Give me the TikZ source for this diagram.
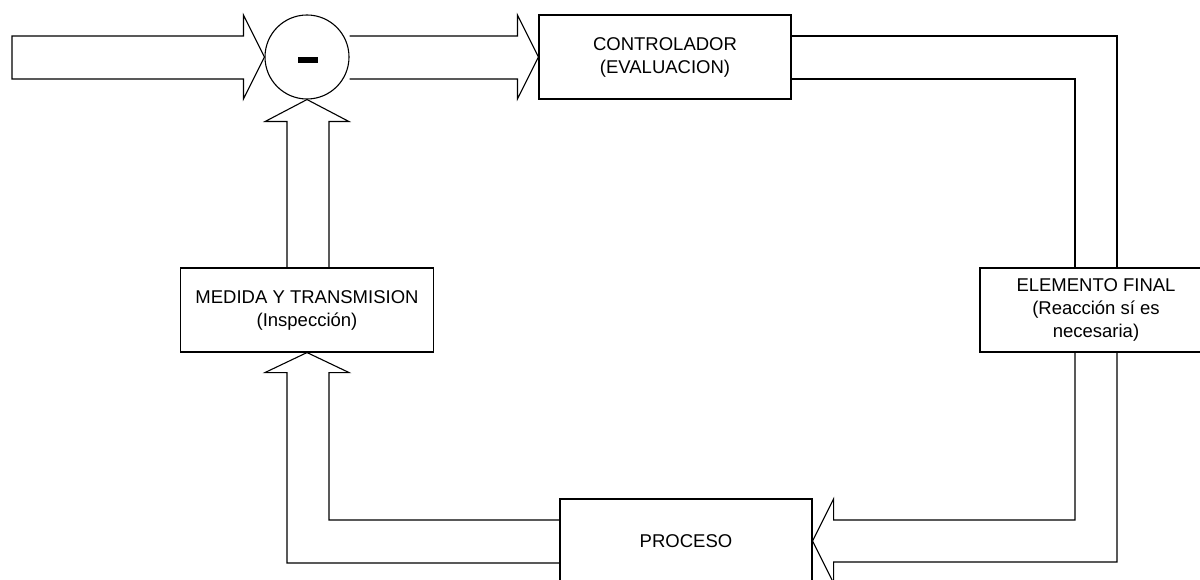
\documentclass[tikz,border=0pt]{standalone}
\usepackage{fontspec}
\setmainfont{Liberation Sans}
\usetikzlibrary{calc}

\begin{document}
\begin{tikzpicture}[x=1pt,y=-1pt,
  every node/.style={font=\fontsize{18.5}{23}\selectfont},
  block/.style={draw, line width=1.1pt, rectangle, minimum height=84pt,
                align=center, inner sep=0pt},
  fat/.style={draw, line width=1.1pt, line join=miter},
]
\clip (0,0) rectangle (1200,580);

% blocks of the control loop
\node[draw, line width=1.1pt, circle, minimum size=84pt, inner sep=0pt] (sum) at (307,57) {};
\node[fill=black, minimum width=20pt, minimum height=6pt, inner sep=0pt] (minus) at (308,60) {};
\node[block, minimum width=252pt] (ctrl) at (665,57) {CONTROLADOR\\(EVALUACION)};
\node[block, minimum width=253pt] (medida) at (307,310) {MEDIDA Y TRANSMISION\\(Inspección)};
\node[block, minimum width=232pt] (elem) at (1096,310) {ELEMENTO FINAL\\(Reacción sí es\\necesaria)};
\node[block, minimum width=252pt] (proc) at (686,541) {PROCESO};

\coordinate (in) at (12,57);

% set point input into the summing junction
\draw[fat] ($(in)+(0,-21)$) -- ($(sum.west)+(-21,-21)$) -- ($(sum.west)+(-21,-42)$)
  -- (sum.west) -- ($(sum.west)+(-21,42)$) -- ($(sum.west)+(-21,22)$)
  -- ($(in)+(0,22)$) -- cycle;

% error signal to the controller
\draw[fat] ($(sum.east)+(0,-21)$) -- ($(ctrl.west)+(-21,-21)$) -- ($(ctrl.west)+(-21,-42)$)
  -- (ctrl.west) -- ($(ctrl.west)+(-21,42)$) -- ($(ctrl.west)+(-21,22)$)
  -- ($(sum.east)+(0,22)$);

% controller output down to the final element
\draw[fat] ($(ctrl.east)+(0,-21)$) -| ($(elem.north)+(21,0)$);
\draw[fat] ($(ctrl.east)+(0,22)$) -| ($(elem.north)+(-21,0)$);

% final element acting on the process
\coordinate (c4o) at ($(elem.south)+(21,0)$);
\coordinate (c4i) at ($(elem.south)+(-21,0)$);
\draw[fat] (c4o) |- ($(proc.east)+(21,21)$) -- ($(proc.east)+(21,42)$)
  -- (proc.east) -- ($(proc.east)+(21,-42)$) -- ($(proc.east)+(21,-21)$)
  -| (c4i);

% process variable to the measuring element
\draw[fat] ($(proc.west)+(0,22)$) -| ($(medida.south)+(-20,20)$) -- ($(medida.south)+(-42,20)$)
  -- (medida.south) -- ($(medida.south)+(42,20)$) -- ($(medida.south)+(22,20)$)
  |- ($(proc.west)+(0,-21)$);

% measured value fed back to the summing junction
\draw[fat] ($(medida.north)+(-20,0)$) -- ($(sum.south)+(-20,22)$) -- ($(sum.south)+(-42,22)$)
  -- (sum.south) -- ($(sum.south)+(42,22)$) -- ($(sum.south)+(22,22)$)
  -- ($(medida.north)+(22,0)$);
\end{tikzpicture}
\end{document}
